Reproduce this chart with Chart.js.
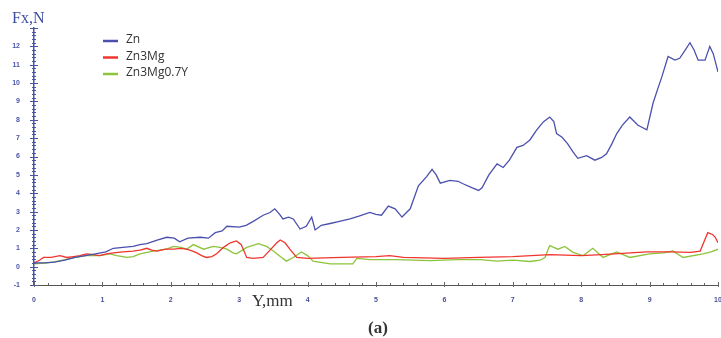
<!DOCTYPE html>
<html>
<head>
<meta charset="utf-8">
<script src="https://cdn.jsdelivr.net/npm/chart.js@4.4.0/dist/chart.umd.min.js"></script>
<style>
  html, body { margin: 0; padding: 0; background: #fff; }
  #wrap { width: 721px; height: 338px; position: relative; }
</style>
</head>
<body>
<div id="wrap"><canvas id="scratchChart"></canvas></div>
<script>
// Fx vs Y
const seriesNames = ['Zn', 'Zn3Mg', 'Zn3Mg0.7Y'];
const seriesColors = ['#4b50ad', '#f0352f', '#8cc43c'];

const znX = [0, 0.15, 0.3, 0.45, 0.6, 0.75, 0.9, 1.05, 1.16, 1.3, 1.45, 1.55, 1.65, 1.8, 1.94, 2.05, 2.13, 2.25, 2.43, 2.55,
  2.65, 2.75, 2.82, 3.0, 3.1, 3.2, 3.35, 3.45, 3.52, 3.58, 3.64, 3.72, 3.79, 3.89, 3.98, 4.06, 4.11, 4.2, 4.33, 4.45,
  4.62, 4.75, 4.91, 5.0, 5.08, 5.18, 5.28, 5.38, 5.5, 5.62, 5.74, 5.82, 5.88, 5.94, 6.08, 6.2, 6.28, 6.4, 6.5, 6.55,
  6.65, 6.77, 6.86, 6.95, 7.06, 7.15, 7.25, 7.35, 7.45, 7.54, 7.6, 7.64, 7.72, 7.8, 7.88, 7.95, 8.08, 8.2, 8.3, 8.37,
  8.45, 8.52, 8.6, 8.71, 8.83, 8.96, 9.05, 9.12, 9.18, 9.27, 9.37, 9.44, 9.52, 9.59, 9.65, 9.71, 9.81, 9.88, 9.93, 9.98, 10.0];
const znY = [0.2, 0.2, 0.25, 0.35, 0.5, 0.6, 0.7, 0.8, 1.0, 1.05, 1.1, 1.2, 1.25, 1.45, 1.6, 1.55, 1.35, 1.55, 1.6, 1.55,
  1.85, 1.95, 2.2, 2.15, 2.25, 2.45, 2.8, 2.95, 3.15, 2.9, 2.6, 2.7, 2.6, 2.05, 2.2, 2.7, 2.0, 2.25, 2.35, 2.45,
  2.6, 2.75, 2.95, 2.85, 2.8, 3.3, 3.15, 2.7, 3.15, 4.4, 4.9, 5.3, 5.0, 4.55, 4.7, 4.65, 4.5, 4.3, 4.15, 4.3,
  5.0, 5.6, 5.4, 5.8, 6.5, 6.6, 6.9, 7.45, 7.9, 8.15, 7.9, 7.25, 7.05, 6.7, 6.25, 5.9, 6.05, 5.8, 5.95, 6.15,
  6.7, 7.25, 7.7, 8.15, 7.7, 7.45, 8.9, 9.7, 10.35, 11.45, 11.25, 11.35, 11.8, 12.2, 11.8, 11.25, 11.25, 12.0, 11.6, 10.9, 10.6];

const mgX = [0, 0.08, 0.14, 0.25, 0.38, 0.48, 0.58, 0.67, 0.77, 0.87, 0.96, 1.06, 1.16, 1.3, 1.45, 1.55, 1.65, 1.72, 1.8, 1.92,
  2.04, 2.15, 2.23, 2.32, 2.38, 2.45, 2.52, 2.6, 2.67, 2.77, 2.87, 2.96, 3.03, 3.11, 3.2, 3.35, 3.45, 3.55, 3.6, 3.67,
  3.74, 3.84, 4.0, 4.5, 5.0, 5.2, 5.4, 6.0, 6.5, 7.0, 7.54, 8.0, 8.3, 8.96, 9.3, 9.6, 9.74, 9.8, 9.85, 9.92, 9.96, 10.0];
const mgY = [0.2, 0.35, 0.5, 0.5, 0.6, 0.5, 0.55, 0.6, 0.7, 0.65, 0.6, 0.7, 0.75, 0.8, 0.85, 0.9, 1.0, 0.9, 0.85, 0.95,
  0.95, 1.0, 0.95, 0.85, 0.75, 0.6, 0.5, 0.55, 0.7, 1.05, 1.3, 1.4, 1.2, 0.5, 0.45, 0.5, 0.9, 1.3, 1.45, 1.3,
  0.95, 0.5, 0.45, 0.5, 0.55, 0.6, 0.5, 0.45, 0.5, 0.55, 0.65, 0.6, 0.65, 0.8, 0.8, 0.78, 0.85, 1.4, 1.85, 1.75, 1.6, 1.3];

const yX = [0, 0.2, 0.35, 0.48, 0.6, 0.77, 0.96, 1.11, 1.21, 1.36, 1.45, 1.55, 1.74, 1.94, 2.04, 2.15, 2.23, 2.33, 2.48, 2.62,
  2.72, 2.82, 2.91, 2.96, 3.11, 3.28, 3.4, 3.5, 3.6, 3.69, 3.79, 3.91, 4.0, 4.08, 4.33, 4.5, 4.66, 4.72, 4.91, 5.3,
  5.79, 6.2, 6.52, 6.77, 7.0, 7.25, 7.4, 7.47, 7.54, 7.66, 7.76, 7.88, 8.03, 8.17, 8.32, 8.52, 8.71, 9.0, 9.2, 9.34,
  9.49, 9.78, 9.9, 10.0];
const yY = [0.15, 0.2, 0.3, 0.4, 0.5, 0.6, 0.6, 0.7, 0.6, 0.5, 0.55, 0.7, 0.85, 0.95, 1.1, 1.05, 0.95, 1.2, 0.95, 1.1,
  1.05, 0.95, 0.75, 0.7, 1.05, 1.25, 1.1, 0.85, 0.55, 0.3, 0.5, 0.8, 0.6, 0.3, 0.15, 0.15, 0.15, 0.45, 0.38, 0.38,
  0.33, 0.38, 0.38, 0.3, 0.35, 0.28, 0.35, 0.5, 1.15, 0.95, 1.1, 0.78, 0.6, 1.0, 0.5, 0.8, 0.5, 0.7, 0.75, 0.85,
  0.5, 0.7, 0.8, 0.95];

const xTicks = [0, 1, 2, 3, 4, 5, 6, 7, 8, 9, 10];
const yTicks = [-1, 0, 1, 2, 3, 4, 5, 6, 7, 8, 9, 10, 11, 12];

function toPoints(xs, ys) {
    return xs.map((x, i) => ({ x: x, y: ys[i] }));
}

// minor ticks crossing the axes, plus free text and legend
const decorPlugin = {
    id: 'decor',
    afterDraw(chart) {
        const ctx = chart.ctx;
        const xs = chart.scales.x;
        const ys = chart.scales.y;
        const area = chart.chartArea;
        ctx.save();

        // y axis ticks
        ctx.strokeStyle = '#4b55a8';
        ctx.lineWidth = 1;
        for (let k = -5; k <= 65; k++) {
            const v = k / 5;
            const py = Math.round(ys.getPixelForValue(v)) + 0.5;
            const major = k % 5 === 0;
            const len = major ? 4 : 2;
            ctx.beginPath();
            ctx.moveTo(area.left - len, py);
            ctx.lineTo(area.left + len, py);
            ctx.stroke();
        }
        // x axis ticks
        ctx.strokeStyle = '#666';
        for (let k = 0; k <= 50; k++) {
            const v = k / 5;
            const px = Math.round(xs.getPixelForValue(v)) + 0.5;
            const major = k % 5 === 0;
            ctx.beginPath();
            ctx.moveTo(px, area.bottom - (major ? 3 : 2));
            ctx.lineTo(px, area.bottom + (major ? 2 : 0));
            ctx.stroke();
        }

        // axis names
        ctx.fillStyle = '#3d4ea0';
        ctx.font = '16px "Liberation Serif"';
        ctx.textBaseline = 'alphabetic';
        ctx.textAlign = 'left';
        ctx.fillText('Fx,N', 12, 23);
        ctx.fillStyle = '#333';
        ctx.font = '17px "Liberation Serif"';
        ctx.fillText('Y,mm', 252, 306);
        ctx.font = 'bold 17px "Liberation Serif"';
        ctx.fillText('(a)', 368, 333);

        // legend
        ctx.font = '12px "Open Sans"';
        ctx.textBaseline = 'middle';
        chart.data.datasets.forEach((ds, i) => {
            const cy = 40 + i * 16.5;
            ctx.strokeStyle = ds.borderColor;
            ctx.lineWidth = 2.5;
            ctx.beginPath();
            ctx.moveTo(103, cy + 1);
            ctx.lineTo(118, cy + 1);
            ctx.stroke();
            ctx.fillStyle = '#333';
            ctx.fillText(ds.label, 126, cy);
        });
        ctx.restore();
    }
};

const tickFont = { family: 'Liberation Sans', size: 7, weight: 'bold' };

new Chart(document.getElementById('scratchChart'), {
    type: 'line',
    data: {
        datasets: [
            { label: seriesNames[0], data: toPoints(znX, znY), borderColor: seriesColors[0] },
            { label: seriesNames[1], data: toPoints(mgX, mgY), borderColor: seriesColors[1] },
            { label: seriesNames[2], data: toPoints(yX, yY), borderColor: seriesColors[2] }
        ]
    },
    options: {
        responsive: true,
        maintainAspectRatio: false,
        animation: false,
        elements: {
            point: { radius: 0 },
            line: { borderWidth: 1.3, tension: 0 }
        },
        layout: { padding: { top: 28, right: 0, left: 0, bottom: 0 } },
        plugins: {
            legend: { display: false },
            tooltip: { enabled: false }
        },
        scales: {
            x: {
                type: 'linear',
                min: 0,
                max: 10,
                afterBuildTicks: s => { s.ticks = xTicks.map(v => ({ value: v })); },
                afterFit: s => { s.height = 53; s.paddingRight = 3; },
                ticks: { font: tickFont, color: '#4a5090', padding: 3, maxRotation: 0 },
                grid: { display: false },
                border: { display: true, color: '#555', width: 1 }
            },
            y: {
                min: -1,
                max: 13,
                afterBuildTicks: s => { s.ticks = yTicks.map(v => ({ value: v })); },
                afterFit: s => { s.width = 34; },
                ticks: { font: tickFont, color: '#4a55a8', padding: 6 },
                grid: { display: false },
                border: { display: true, color: '#4b55a8', width: 1.5 }
            }
        }
    },
    plugins: [decorPlugin]
});
</script>
</body>
</html>
